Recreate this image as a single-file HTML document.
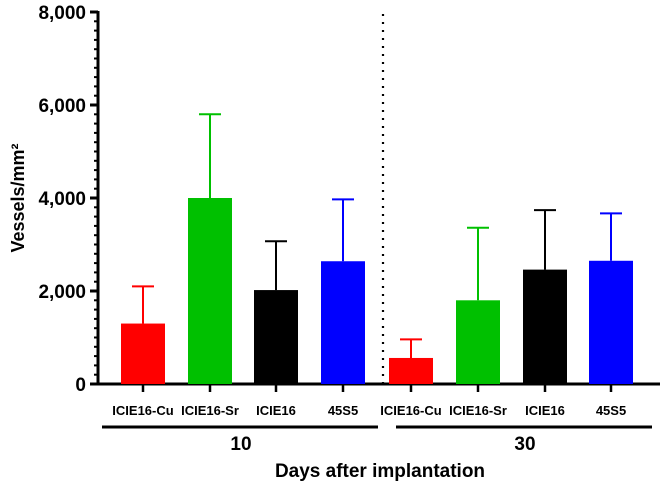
<!DOCTYPE html>
<html><head><meta charset="utf-8"><style>
body{margin:0;background:#fff}
svg{display:block;font-family:"Liberation Sans",Arial,sans-serif;font-weight:bold}
</style></head><body>
<svg id="c" width="662" height="488"></svg>
<script>
const categories=["ICIE16-Cu","ICIE16-Sr","ICIE16","45S5","ICIE16-Cu","ICIE16-Sr","ICIE16","45S5"];
const means=[1300,4000,2020,2640,560,1800,2460,2650];
const errTops=[2100,5800,3070,3970,960,3360,3740,3670];
const colors=["#ff0000","#00c000","#000000","#0000ff","#ff0000","#00c000","#000000","#0000ff"];
const yTicks=[0,2000,4000,6000,8000];
const yTickLabels=["0","2,000","4,000","6,000","8,000"];
const groups=["10","30"];
const NS="http://www.w3.org/2000/svg";
const svg=document.getElementById('c');
function el(t,a,txt){const e=document.createElementNS(NS,t);for(const k in a)e.setAttribute(k,a[k]);if(txt!==undefined)e.textContent=txt;svg.appendChild(e);return e;}
const y=v=>384-v*(372/8000);
const centers=[143,210,276,343,411,478,545,611];
const x=i=>centers[i];
// y axis
let ax=el('line',{x1:98,y1:11,x2:98,y2:385,stroke:'#000','stroke-width':3});


for(let v=0;v<=8000;v+=200){
  const major=v%2000===0;
  const t=el('line',{x1:major?90:94,y1:y(v),x2:98,y2:y(v),stroke:'#000','stroke-width':major?3:2});
  
  
}
yTicks.forEach((v,i)=>{
  const t=el('text',{x:86,y:y(v)+7,'text-anchor':'end','font-size':19},yTickLabels[i]);
  
  
});
const yt=el('text',{x:0,y:0,'text-anchor':'middle','font-size':18,transform:'translate(24,198) rotate(-90)'},'Vessels/mm²');


// x axis
const xa=el('line',{x1:97,y1:384,x2:660,y2:384,stroke:'#000','stroke-width':3});


// dotted separator
const sep=el('line',{x1:383,y1:14,x2:383,y2:383,stroke:'#000','stroke-width':2.2,'stroke-dasharray':'2 6'});


categories.forEach((c,i)=>{
  const cx=x(i),w=44,col=colors[i];
  const eb=el('path',{d:`M${cx} ${y(means[i])}V${y(errTops[i])}M${cx-11} ${y(errTops[i])}H${cx+11}`,stroke:col,'stroke-width':2,fill:'none'});
  
  
  const b=el('rect',{x:cx-w/2,y:y(means[i]),width:w,height:y(0)-y(means[i]),fill:col});
  
  
  const tk=el('line',{x1:cx,y1:384,x2:cx,y2:392,stroke:'#000','stroke-width':2.5});
  
  
  const lb=el('text',{x:cx,y:415,'text-anchor':'middle','font-size':13},c);
  
  
});
[[102,378],[396,652]].forEach((r,g)=>{
  const l=el('line',{x1:r[0],y1:427,x2:r[1],y2:427,stroke:'#000','stroke-width':3});
  
  
  const t=el('text',{x:g?525:241,y:450,'text-anchor':'middle','font-size':19},groups[g]);
  
  
});
const xt=el('text',{x:380,y:477,'text-anchor':'middle','font-size':19},'Days after implantation');


</script>
</body></html>
